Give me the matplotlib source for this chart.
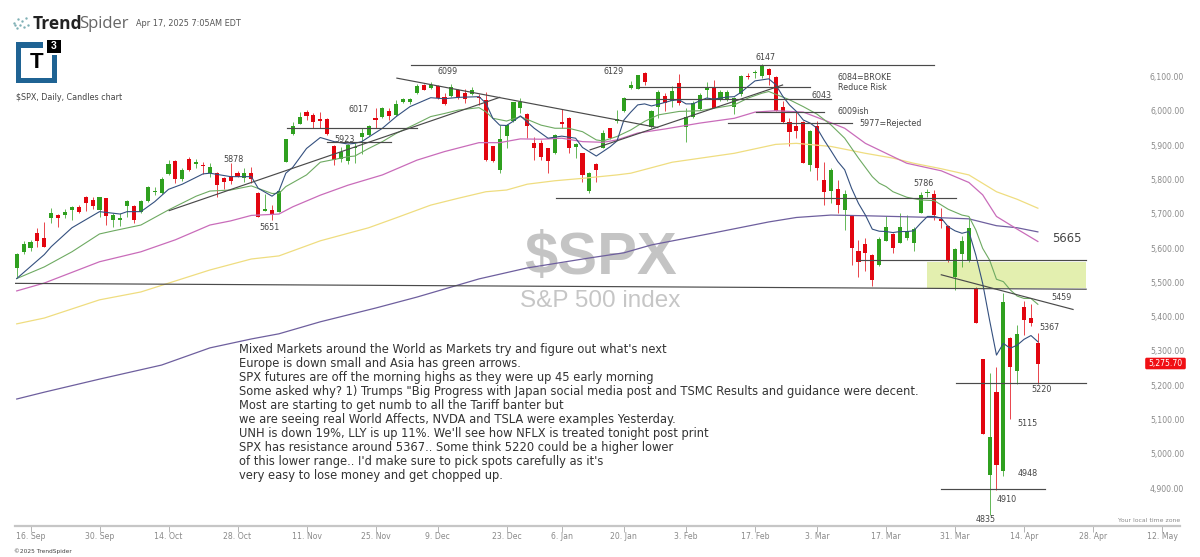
#SPX daily candles chart, TrendSpider style
import matplotlib
matplotlib.use('Agg')
import matplotlib.pyplot as plt
from matplotlib.patches import Rectangle, FancyBboxPatch

#candles, one per trading day
highs = [5586,5621,5623,5657,5677,5718,5699,5713,5722,5725,
         5753,5748,5749,5747,5703,5703,5740,5725,5740,5782,
         5779,5806,5856,5856,5832,5864,5858,5852,5847,5822,
         5808,5849,5825,5832,5837,5762,5757,5725,5767,5918,
         5968,5997,6002,5992,5997,5978,5900,5893,5903,5905,
         5949,5958,6007,6010,6007,6031,6038,6038,6078,6078,
         6085,6075,6051,6078,6062,6062,6070,6048,6056,5897,
         5958,5960,6026,6036,5992,5924,5915,5890,5932,6004,
         5981,5907,5876,5822,5847,5944,5949,6002,6041,6087,
         6105,6112,6003,6061,6051,6071,6107,6007,6027,6053,
         6085,6090,6061,6061,6041,6105,6110,6119,6136,6124,
         6100,6027,5978,5996,5969,5944,5971,5852,5832,5798,
         5769,5694,5624,5628,5582,5633,5692,5643,5701,5696,
         5660,5762,5773,5769,5718,5667,5599,5636,5687,5487,
         5278,5235,5254,5470,5342,5376,5447,5436,5353]
lows = [5516,5584,5592,5602,5602,5674,5662,5687,5683,5701,
        5709,5715,5691,5667,5662,5664,5689,5674,5701,5735,
        5754,5757,5813,5790,5796,5824,5834,5816,5806,5749,
        5771,5786,5806,5793,5790,5691,5709,5681,5706,5851,
        5930,5961,5973,5949,5949,5929,5841,5852,5844,5849,
        5873,5926,5949,5978,5973,5986,6022,6020,6048,6059,
        6064,6035,6017,6041,6035,6024,6045,6017,5854,5851,
        5819,5890,5967,5992,5920,5856,5856,5818,5874,5949,
        5876,5861,5793,5761,5793,5890,5917,5963,5996,6064,
        6063,6076,5951,5980,5998,6012,6017,5910,5980,6003,
        6037,6007,6027,6029,5990,6044,6092,6095,6095,6074,
        5998,5964,5896,5920,5847,5825,5798,5726,5730,5701,
        5653,5551,5515,5534,5490,5549,5619,5585,5614,5622,
        5590,5701,5748,5682,5658,5560,5478,5546,5560,5381,
        5058,4822,4896,4936,5103,5205,5346,5374,5205]
opens = [5541,5588,5599,5643,5628,5687,5696,5695,5712,5719,
         5748,5740,5711,5745,5683,5683,5722,5723,5706,5738,
         5762,5761,5816,5853,5800,5860,5844,5843,5818,5819,
         5804,5811,5819,5804,5818,5761,5709,5711,5706,5851,
         5932,5961,5995,5988,5975,5976,5897,5859,5854,5890,
         5924,5928,5978,5983,6000,5988,6025,6026,6053,6074,
         6066,6072,6041,6044,6061,6053,6048,6039,6031,5896,
         5827,5926,5969,6008,5991,5905,5905,5890,5876,5968,
         5978,5893,5876,5767,5845,5892,5949,5969,5998,6066,
         6063,6110,5953,6012,6044,6029,6082,5954,5982,6005,
         6059,6069,6032,6032,6010,6048,6102,6110,6100,6121,
         6099,6012,5967,5956,5967,5842,5956,5798,5766,5771,
         5711,5692,5590,5612,5580,5551,5621,5640,5616,5630,
         5616,5703,5760,5758,5684,5664,5517,5583,5563,5483,
         5278,4938,5180,4950,5339,5241,5429,5397,5322]
closes = [5582,5613,5618,5619,5604,5701,5688,5704,5719,5705,
          5730,5722,5748,5694,5696,5687,5737,5681,5736,5778,
          5766,5800,5845,5800,5827,5827,5851,5840,5837,5783,
          5793,5795,5808,5818,5800,5691,5715,5696,5766,5917,
          5957,5981,5986,5968,5971,5932,5856,5881,5901,5893,
          5934,5955,5973,6007,5985,6019,6035,6035,6073,6061,
          6075,6038,6019,6068,6038,6035,6059,6036,5856,5853,
          5917,5958,6025,6026,5955,5891,5864,5854,5928,5960,
          5892,5903,5813,5820,5826,5936,5922,5976,6037,6074,
          6105,6083,6000,6054,6024,6058,6024,5981,6024,6047,
          6069,6009,6054,6056,6037,6101,6098,6114,6131,6103,
          5998,5966,5939,5941,5847,5941,5834,5764,5828,5724,
          5757,5600,5558,5585,5507,5626,5660,5599,5660,5649,
          5656,5755,5764,5696,5679,5565,5597,5620,5658,5382,
          5058,5048,4967,5444,5252,5349,5390,5382,5261]

#moving averages, read at the candle index where they bend
blue_x = [0,4,5,8,12,15,16,18,20,22,24,27,28,31,34,35,37,38,39,40,42,44,46,48,49,50,53,55,57,60,62,64,67,68,69,70,71,72,73,75,77,79,81,82,84,86,87,
          88,89,90,91,92,93,95,96,97,98,99,100,101,103,104,105,106,107,108,109,110,111,112,113,114,115,116,117,118,119,120,121,122,123,
          124,125,126,127,128,129,130,131,132,133,134,135,136,137,138,139,140,141,142,143,144,145,146,147,148]
blue_y = [5511,5581,5604,5659,5706,5699,5706,5706,5735,5771,5786,5816,5818,5808,5808,5774,5751,5766,5818,5835,5890,5922,5910,5903,5905,5910,5949,5983,6012,6038,6035,6039,6041,6022,5978,5958,5957,5970,5985,5949,5920,5926,5920,5893,5868,5895,5912,
          5973,5996,6017,6020,6014,6019,6030,6032,6020,6020,6029,6037,6034,6040,6041,6054,6071,6087,6090,6093,6076,6043,6017,5998,5973,5964,5949,5915,5884,5852,5828,5774,5730,5696,
          5655,5649,5648,5645,5648,5648,5650,5672,5692,5692,5687,5662,5650,5643,5648,5580,5497,5390,5288,5322,5308,5317,5334,5345,5327]
green_x = [0,4,8,12,14,18,22,26,28,31,34,37,38,39,42,44,48,49,51,53,55,58,60,62,64,67,68,69,71,73,76,78,80,82,84,85,
           87,89,91,93,96,99,101,104,106,108,109,110,112,114,116,118,120,122,124,125,126,127,129,131,133,135,137,138,139,140,141,142,143,144,145,146,147,148]
green_y = [5511,5545,5589,5641,5650,5667,5711,5751,5766,5769,5781,5759,5759,5779,5813,5850,5866,5868,5890,5910,5934,5963,5983,5992,6002,6009,5997,5978,5970,5983,5958,5949,5949,5939,5915,5912,
           5925,5944,5969,5988,5998,6000,6007,6017,6037,6051,6056,6048,6032,6012,5990,5959,5920,5862,5808,5789,5779,5764,5748,5740,5738,5713,5696,5692,5653,5599,5565,5509,5502,5478,5460,5453,5453,5436]
magenta_x = [0,4,12,18,23,28,31,34,38,40,44,48,53,58,62,67,70,73,76,79,82,85,87,90,94,99,104,107,110,114,117,120,123,126,129,134,138,140,142,145,148]
magenta_y = [5475,5498,5560,5589,5624,5667,5679,5695,5699,5720,5754,5783,5813,5856,5881,5907,5907,5918,5917,5920,5910,5908,5915,5935,5947,5964,5978,5996,6000,5996,5973,5949,5905,5876,5847,5825,5791,5755,5692,5655,5619]
yellow_x = [0,4,12,18,28,34,38,44,51,55,60,64,68,71,74,78,82,87,89,95,104,110,113,118,123,127,130,134,138,142,145,148]
yellow_y = [5379,5396,5449,5472,5536,5568,5577,5621,5659,5688,5725,5745,5764,5769,5786,5796,5803,5813,5818,5850,5876,5902,5905,5896,5876,5862,5847,5831,5813,5764,5742,5716]
purple_x = [0,4,12,21,28,34,38,44,52,58,67,74,83,88,92,101,109,113,118,123,133,138,142,145,148]
purple_y = [5160,5180,5218,5259,5309,5335,5350,5385,5425,5457,5510,5542,5571,5586,5609,5644,5676,5689,5696,5694,5689,5685,5665,5659,5647]

#drawn trend lines and levels: start index, end index, start price, end price
line_x0 = [57.1,55.1,22.1,39.2,45,83.1,90.2,88.2,107.2,103.1,78.2,122,-0.4,134,136.1,134]
line_x1 = [133,92.9,70,58,54.2,111,115,118,117,121,136.1,155,155,153.1,155,149.1]
line_p0 = [6134,6095,5709,5951,5910,5886,6069,6034,5996,5965,5746,5565,5497,5522,5207,4897]
line_p1 = [6134,5951,6039,5951,5910,6075,6069,6034,5996,5965,5746,5565,5480,5421,5207,4897]

#price labels written on the chart
note_text = ['6147','6129','6099','6017','5923','5878','5651','6043','5786','5571','5481','5459','5367','5220','5115','4948','4910','4835']
note_px = [766,614,448,359,345,234,269,821,924,1028,1034,1062,1049,1042,1028,1028,1007,986]
note_py = [58,72,72,110,139,159,228,95,183,267,283,297,328,390,424,473,499,519]

tick_idx = [2,12,22,32,42,52,61,71,79,88,97,107,116,126,136,146,156,166]
tick_txt = ['16. Sep','30. Sep','14. Oct','28. Oct','11. Nov','25. Nov','9. Dec','23. Dec','6. Jan','20. Jan','3. Feb','17. Feb','3. Mar','17. Mar','31. Mar','14. Apr','28. Apr','12. May']
price_ticks = [4900,5000,5100,5200,5300,5400,5500,5600,5700,5800,5900,6000,6100]

comment = ["Mixed Markets around the World as Markets try and figure out what's next",
           "Europe is down small and Asia has green arrows.",
           "SPX futures are off the morning highs as they were up 45 early morning",
           "Some asked why? 1) Trumps \"Big Progress with Japan social media post and TSMC Results and guidance were decent.",
           "Most are starting to get numb to all the Tariff banter but",
           "we are seeing real World Affects, NVDA and TSLA were examples Yesterday.",
           "UNH is down 19%, LLY is up 11%. We'll see how NFLX is treated tonight post print",
           "SPX has resistance around 5367.. Some think 5220 could be a higher lower",
           "of this lower range.. I'd make sure to pick spots carefully as it's",
           "very easy to lose money and get chopped up."]

RED = '#e2050f'
GREEN = '#2fa01f'
LINE = '#4a4a4a'

fig = plt.figure(figsize=(12, 5.57), dpi=100)

#back layer in pixels, for logo, texts and watermark
bg = fig.add_axes([0, 0, 1, 1], zorder=-1)
bg.set_xlim(0, 1200)
bg.set_ylim(557, 0)
bg.axis('off')

#price chart on top, one unit of x is one candle
ax = fig.add_axes([15/1200, 31/557, 1165/1200, 476/557], facecolor='none')
ax.set_xlim(-0.25, 168.6)
ax.set_ylim(4790, 6177)

days = range(len(highs))
up = [closes[i] >= opens[i] for i in days]
colors = [GREEN if u else RED for u in up]
ax.vlines(days, lows, highs, colors=colors, linewidth=0.7, alpha=0.75, zorder=2)
tops = [max(opens[i], closes[i]) for i in days]
bots = [min(opens[i], closes[i]) for i in days]
ax.bar(days, [tops[i]-bots[i] for i in days], bottom=bots, width=0.6, color=colors, linewidth=0, zorder=3)

ax.plot(purple_x, purple_y, color='#6e5f9e', linewidth=0.9, zorder=4)
ax.plot(yellow_x, yellow_y, color='#efdd80', linewidth=0.9, zorder=4)
ax.plot(magenta_x, magenta_y, color='#c96cba', linewidth=0.9, zorder=4)
ax.plot(green_x, green_y, color='#6eaa62', linewidth=0.8, zorder=4)
ax.plot(blue_x, blue_y, color='#34507f', linewidth=0.8, zorder=4)

#green support zone
ax.add_patch(Rectangle((132, 5483), 23, 77, facecolor='#e3efaf', edgecolor='none', zorder=1))

for i in range(len(line_x0)):
    ax.plot([line_x0[i], line_x1[i]], [line_p0[i], line_p1[i]], color=LINE, linewidth=0.85, zorder=5)

#axis
for s in ['top', 'left', 'right']:
    ax.spines[s].set_visible(False)
ax.spines['bottom'].set_color('#c6c6c6')
ax.spines['bottom'].set_linewidth(1.6)
ax.set_xticks(tick_idx)
ax.set_xticklabels(tick_txt)
ax.tick_params(axis='x', length=4, width=0.6, color='#aaaaaa', labelcolor='#8a8a8a', labelsize=5.6, pad=0.5)
ax.yaxis.tick_right()
ax.set_yticks(price_ticks)
ax.set_yticklabels(['{:,.2f}'.format(p) for p in price_ticks])
ax.tick_params(axis='y', length=0, labelcolor='#8a8a8a', labelsize=5.6, pad=3)
plt.setp(ax.get_yticklabels(), ha='right')

#watermark
bg.text(601, 258, '$SPX', family='Liberation Sans', weight='bold', fontsize=43, color='#c4c4c4', ha='center', va='center')
bg.text(600, 301, 'S&P 500 index', family='Liberation Sans', fontsize=17.5, color='#c6c6c6', ha='center', va='center')

#labels
for i in range(len(note_text)):
    bg.text(note_px[i], note_py[i], note_text[i], fontsize=5.8, color='#444444', ha='center', va='center')
bg.text(838, 77, '6084=BROKE', fontsize=5.8, color='#444444', va='center')
bg.text(838, 87, 'Reduce Risk', fontsize=5.8, color='#444444', va='center')
bg.text(838, 112, '6009ish', fontsize=5.8, color='#444444', va='center')
bg.text(859, 123, '5977=Rejected', fontsize=5.8, color='#444444', va='center')
bg.text(1067, 238, '5665', fontsize=8.4, color='#444444', ha='center', va='center')

#comment block
for i in range(len(comment)):
    bg.text(239, 349 + i*14, comment[i], fontsize=8.3, color='#333333', va='center')

#current price tag
bg.add_patch(FancyBboxPatch((1146, 358.5), 39, 10, boxstyle='round,pad=0.8,rounding_size=1.5', facecolor='#f00f14', edgecolor='none'))
bg.text(1165.5, 363.5, '5,275.70', fontsize=5.6, color='white', ha='center', va='center')

#header
bg.text(33, 24, 'Trend', family='Open Sans', weight='bold', fontsize=12.5, color='#222222', va='center')
bg.text(79, 24, 'Spider', family='Open Sans', fontsize=12, color='#666666', va='center')
bg.text(136, 24, 'Apr 17, 2025 7:05AM EDT', fontsize=5.9, color='#555555', va='center')
bg.scatter([14,18,22,26,17,24,20,28,15], [23,19,21,18,28,27,25,25,25], s=3, color='#7fb0b5', linewidth=0)

#T3 logo
blue = '#1f6393'
bg.add_patch(Rectangle((16, 42), 27, 5.5, color=blue, linewidth=0))
bg.add_patch(Rectangle((16, 42), 5, 41, color=blue, linewidth=0))
bg.add_patch(Rectangle((16, 77.5), 41, 5.5, color=blue, linewidth=0))
bg.add_patch(Rectangle((52, 55), 5, 28, color=blue, linewidth=0))
bg.add_patch(Rectangle((47, 39.5), 13.5, 13, color='black', linewidth=0))
bg.text(53.7, 46, '3', family='Liberation Sans', weight='bold', fontsize=7.5, color='white', ha='center', va='center')
bg.text(36.5, 63, 'T', family='Liberation Sans', weight='bold', fontsize=16, color='black', ha='center', va='center')

bg.text(16, 98, '$SPX, Daily, Candles chart', fontsize=5.8, color='#444444', va='center')
bg.text(1180, 521, 'Your local time zone', fontsize=4.4, color='#8a8a8a', ha='right', va='center')
bg.text(14, 551, '©2025 TrendSpider', fontsize=4.2, color='#444444', va='center')

fig.savefig('out.png', dpi=100)
